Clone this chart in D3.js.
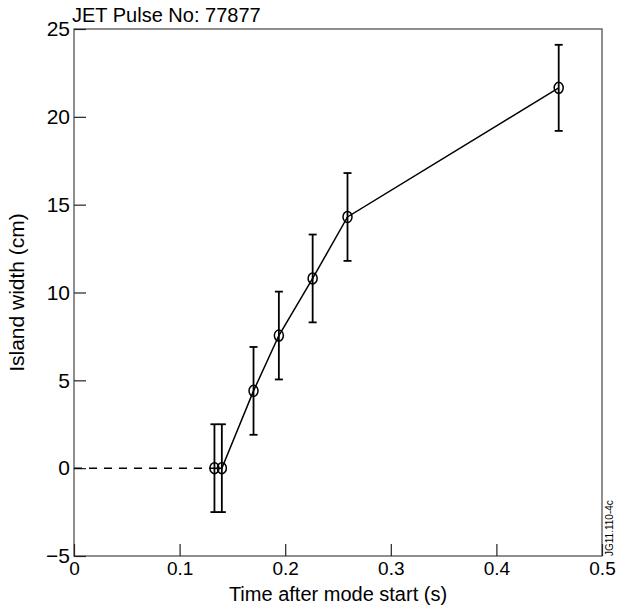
<!DOCTYPE html>
<html>
<head>
<meta charset="utf-8">
<script src="https://cdn.jsdelivr.net/npm/d3@7"></script>
<style>
  body { margin: 0; background: #fff; }
  text { font-family: "Liberation Sans", Arial, sans-serif; }
</style>
</head>
<body>
<svg id="chart" width="619" height="613"></svg>
<script>
// data
let times = [0.133, 0.140, 0.170, 0.194, 0.226, 0.259, 0.459];
let widths = [0, 0, 4.4, 7.55, 10.8, 14.3, 21.65];
let errors = [2.5, 2.5, 2.5, 2.5, 2.5, 2.5, 2.45];
let dashStart = [0, 0];
let xTicks = [0, 0.1, 0.2, 0.3, 0.4, 0.5];
let yTicks = [-5, 0, 5, 10, 15, 20, 25];

let margin = {top: 29, right: 17, bottom: 57, left: 74},
    width = 619 - margin.left - margin.right,
    height = 613 - margin.top - margin.bottom;

let svg = d3.select("#chart")
    .append("g")
    .attr("transform", "translate(" + margin.left + "," + margin.top + ")");

let x = d3.scaleLinear().domain([0, 0.5]).range([0, width]);
let y = d3.scaleLinear().domain([-5, 25]).range([height, 0]);

let data = times.map((t, i) => ({t: t, w: widths[i], e: errors[i]}));

//frame
svg.append("rect")
    .attr("width", width)
    .attr("height", height)
    .attr("fill", "none")
    .attr("stroke", "#444")
    .attr("stroke-width", 1.2);

//x axis, ticks pointing in
let xAxis = svg.append("g")
    .attr("transform", "translate(0," + height + ")")
    .call(d3.axisBottom(x).tickValues(xTicks).tickSize(-12).tickPadding(6)
        .tickFormat(d => d === 0 ? "0" : d3.format(".1f")(d)));
xAxis.select(".domain").remove();
xAxis.selectAll("line").attr("stroke", "#222").attr("stroke-width", 1.2);
xAxis.selectAll("text").style("font-size", "19px").attr("fill", "#000")
    .attr("font-family", "Liberation Sans, Arial, sans-serif");

//y axis
let yAxis = svg.append("g")
    .call(d3.axisLeft(y).tickValues(yTicks).tickSize(-12).tickPadding(4)
        .tickFormat(d => d < 0 ? "\u2212" + Math.abs(d) : d));
yAxis.select(".domain").remove();
yAxis.selectAll("line").attr("stroke", "#222").attr("stroke-width", 1.2);
yAxis.selectAll("text").style("font-size", "21px").attr("fill", "#000")
    .attr("font-family", "Liberation Sans, Arial, sans-serif");

//dashed lead-in at zero
svg.append("line")
    .attr("x1", x(dashStart[0]))
    .attr("y1", y(dashStart[1]))
    .attr("x2", x(times[0]))
    .attr("y2", y(widths[0]))
    .attr("stroke", "#000")
    .attr("stroke-width", 1.5)
    .attr("stroke-dasharray", "8,7");

//connecting line
let valueline = d3.line()
    .x(d => x(d.t))
    .y(d => y(d.w));
svg.append("path")
    .datum(data)
    .attr("d", valueline)
    .attr("fill", "none")
    .attr("stroke", "#000")
    .attr("stroke-width", 1.5);

//error bars
let bars = svg.selectAll(".err").data(data).enter().append("g").attr("class", "err");
bars.append("line")
    .attr("x1", d => x(d.t)).attr("x2", d => x(d.t))
    .attr("y1", d => y(d.w - d.e)).attr("y2", d => y(d.w + d.e))
    .attr("stroke", "#000").attr("stroke-width", 1.8);
bars.append("line")
    .attr("x1", d => x(d.t) - 4).attr("x2", d => x(d.t) + 4)
    .attr("y1", d => y(d.w + d.e)).attr("y2", d => y(d.w + d.e))
    .attr("stroke", "#000").attr("stroke-width", 1.8);
bars.append("line")
    .attr("x1", d => x(d.t) - 4).attr("x2", d => x(d.t) + 4)
    .attr("y1", d => y(d.w - d.e)).attr("y2", d => y(d.w - d.e))
    .attr("stroke", "#000").attr("stroke-width", 1.8);

//markers
svg.selectAll(".pt").data(data).enter().append("ellipse")
    .attr("class", "pt")
    .attr("cx", d => x(d.t))
    .attr("cy", d => y(d.w))
    .attr("rx", 4.5)
    .attr("ry", 5.5)
    .attr("fill", "none")
    .attr("stroke", "#000")
    .attr("stroke-width", 1.5);

//title
svg.append("text")
    .attr("x", -2)
    .attr("y", -7)
    .style("font-size", "20px")
    .text("JET Pulse No: 77877");

//x label
svg.append("text")
    .attr("x", width / 2)
    .attr("y", height + 45)
    .style("font-size", "20px")
    .style("text-anchor", "middle")
    .text("Time after mode start (s)");

//y label
svg.append("text")
    .attr("transform", "rotate(-90)")
    .attr("x", -height / 2)
    .attr("y", -50)
    .style("font-size", "21px")
    .style("text-anchor", "middle")
    .text("Island width (cm)");

//figure id
svg.append("text")
    .attr("transform", "rotate(-90)")
    .attr("x", -height)
    .attr("y", width + 11)
    .style("font-size", "10px")
    .text("JG11.110-4c");
</script>
</body>
</html>
